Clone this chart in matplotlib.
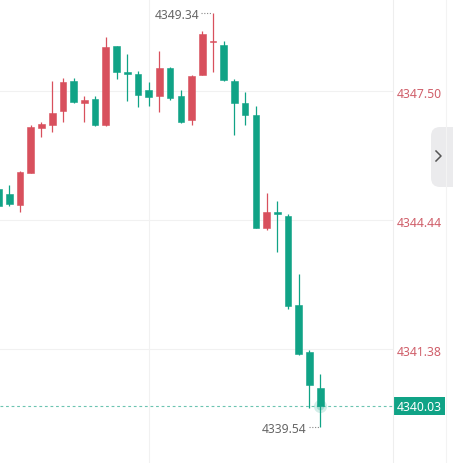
import numpy as np
import matplotlib.pyplot as plt
from matplotlib.patches import FancyBboxPatch, Rectangle

# candle data (red = up, green = down)
opens = [4345.18, 4345.06, 4344.80, 4345.56, 4346.62, 4346.69, 4347.03, 4347.74,
         4347.22, 4347.31, 4346.69, 4348.57, 4347.95, 4347.90, 4347.52, 4347.38,
         4348.05, 4347.38, 4346.81, 4347.88, 4348.66, 4348.59, 4347.74, 4347.22,
         4346.93, 4344.25, 4344.63, 4344.54, 4342.42, 4341.31, 4340.46]
closes = [4344.77, 4344.82, 4345.58, 4346.65, 4346.72, 4346.98, 4347.71, 4347.24,
          4347.29, 4346.69, 4348.54, 4347.95, 4347.90, 4347.41, 4347.36, 4348.05,
          4347.33, 4346.76, 4347.86, 4348.85, 4348.69, 4347.76, 4347.22, 4346.93,
          4344.25, 4344.63, 4344.58, 4342.40, 4341.26, 4340.53, 4340.03]
highs = [4345.22, 4345.27, 4345.60, 4346.69, 4346.76, 4347.74, 4347.81, 4347.81,
         4347.38, 4347.38, 4348.78, 4348.57, 4348.38, 4347.97, 4347.71, 4348.45,
         4348.07, 4347.52, 4347.88, 4348.92, 4349.34, 4348.69, 4347.78, 4347.48,
         4347.14, 4345.08, 4344.89, 4344.58, 4343.16, 4341.36, 4340.79]
lows = [4344.72, 4344.77, 4344.63, 4345.55, 4346.41, 4346.53, 4346.76, 4347.22,
        4346.76, 4346.68, 4346.67, 4347.78, 4347.26, 4347.12, 4347.14, 4347.00,
        4347.29, 4346.75, 4346.69, 4347.88, 4347.95, 4347.74, 4346.46, 4346.69,
        4344.24, 4344.20, 4343.68, 4342.33, 4341.24, 4339.98, 4339.54]

axis_ticks = [4347.50, 4344.44, 4341.38]
last_price = 4340.03
max_price = 4349.34
min_price = 4339.54

RED = '#d8505d'
GREEN = '#10a386'
LABEL_RED = '#d0606b'
GRID = '#f1f1f1'

W, H = 453, 464
fig = plt.figure(figsize=(W / 100, H / 100), dpi=100)
plt.rcParams['font.family'] = ['Noto Sans', 'DejaVu Sans']

plot_w = 393
ax = fig.add_axes([0, 0, plot_w / W, 1])
ax.set_xlim(0.13, 36.79)
ax.set_ylim(4338.677, 4349.682)
ax.axis('off')

# grid
for t in axis_ticks:
    ax.axhline(t, color=GRID, lw=0.8, zorder=0)
ax.axvline(14, color=GRID, lw=0.8, zorder=0)

x = np.arange(len(opens))
for i in x:
    o, c, h, l = opens[i], closes[i], highs[i], lows[i]
    col = RED if c >= o else GREEN
    ax.vlines(i, l, h, color=col, lw=0.9, zorder=2)
    bottom = min(o, c)
    height = max(abs(c - o), 0.03)
    ax.bar(i, height, bottom=bottom, width=0.62, color=col,
           edgecolor=col, lw=0.4, zorder=3)

# glow on last candle
ax.scatter([x[-1]], [last_price], s=90, color=GREEN, alpha=0.18, lw=0, zorder=4)
ax.scatter([x[-1]], [last_price], s=30, color=GREEN, alpha=0.25, lw=0, zorder=4)

# current price line
ax.axhline(last_price, color='#6cc4b1', lw=0.8, ls=(0, (2.5, 2.5)), zorder=1)

# max / min markers
i_max = int(np.argmax(highs))
i_min = int(np.argmin(lows))
ax.plot([i_max - 1.1, i_max - 0.1], [max_price, max_price], color='#888888',
        lw=0.8, ls=(0, (1, 1.5)))
ax.text(i_max - 1.25, max_price - 0.03, f'{max_price:.2f}', ha='right', va='center',
        fontsize=8.7, color='#666666')
ax.plot([i_min - 1.0, i_min - 0.1], [min_price, min_price], color='#888888',
        lw=0.8, ls=(0, (1, 1.5)))
ax.text(i_min - 1.25, min_price - 0.05, f'{min_price:.2f}', ha='right', va='center',
        fontsize=8.7, color='#666666')

# right price axis
fig.add_artist(plt.Line2D([plot_w / W, plot_w / W], [0, 1], color='#eeeeee', lw=0.8))
fig.add_artist(plt.Line2D([446 / W, 446 / W], [0, 1], color='#f3f3f3', lw=0.8))
ty = ax.get_yaxis_transform()
for t in axis_ticks:
    ax.text(1.0 + 4 / plot_w, t - 0.05, f'{t:.2f}', transform=ty, ha='left', va='center',
            fontsize=8.8, color=LABEL_RED, clip_on=False)

# last price box
box_y = 1 - 416 / H
fig.add_artist(Rectangle((plot_w / W, box_y), 52 / W, 18 / H, color=GREEN, lw=0))
fig.text((plot_w + 26) / W, box_y + 8.5 / H, f'{last_price:.2f}', ha='center', va='center',
         fontsize=8.8, color='white')

# side tab with chevron
tab = FancyBboxPatch((431 / W, 1 - 188 / H), 30 / W, 60 / H,
                     boxstyle='round,pad=0,rounding_size=0.02',
                     transform=fig.transFigure, facecolor='#ebebed', edgecolor='none')
fig.add_artist(tab)
fig.add_artist(plt.Line2D([436 / W, 441 / W, 436 / W],
                          [1 - 152 / H, 1 - 157 / H, 1 - 162 / H],
                          color='#555555', lw=1.1))

fig.savefig('out.png', dpi=100)
